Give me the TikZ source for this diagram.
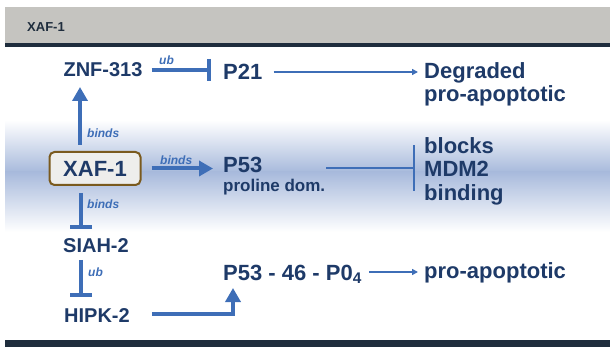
\documentclass[tikz,border=0pt]{standalone}
\usepackage{fontspec}
\setmainfont{Liberation Sans}
\usetikzlibrary{arrows.meta}

\definecolor{navy}{RGB}{30,58,104}
\definecolor{pathblue}{RGB}{62,110,183}
\definecolor{bargrey}{RGB}{197,196,192}
\definecolor{barnavy}{RGB}{31,45,61}
\definecolor{bandblue}{RGB}{168,186,220}
\definecolor{boxrim}{RGB}{122,90,30}
\definecolor{boxfill}{RGB}{238,238,236}

\begin{document}
\begin{tikzpicture}[x=1pt,y=-1pt,
  gene/.style={font=\bfseries\fontsize{20}{22}\selectfont,text=navy,inner sep=0pt},
  prot/.style={font=\bfseries\fontsize{22}{23.5}\selectfont,text=navy,inner sep=0pt},
  tag/.style={font=\bfseries\itshape\fontsize{12}{14}\selectfont,text=pathblue,inner sep=0pt,anchor=west},
  fat/.style={draw=pathblue,line width=4pt,-{Triangle[width=15pt,length=14pt]}},
  block/.style={draw=pathblue,line width=4pt,-{Bar[width=22pt]}},
  stop/.style={draw=pathblue,line width=2pt,-{Bar[width=46pt]}},
  thin/.style={draw=pathblue,line width=1.6pt,-{Triangle[width=6pt,length=6pt]}}]
\useasboundingbox (0,0) rectangle (610,347);

% frame and band
\fill[bargrey] (5,7) rectangle (610,43);
\fill[barnavy] (5,43) rectangle (610,47);
\fill[barnavy] (5,340) rectangle (610,347);
\shade[top color=white,bottom color=bandblue] (5,120) rectangle (610,172);
\shade[top color=bandblue,bottom color=white] (5,172) rectangle (610,232);
\node[font=\bfseries\fontsize{13}{15}\selectfont,text=barnavy,anchor=west,inner sep=0pt] (title) at (27,27) {XAF-1};

% nodes
\node[gene,anchor=base] (znf) at (103,77) {ZNF-313};
\node[prot,anchor=base west] (p21) at (223,80) {P21};
\node[prot,anchor=north west,align=left] (degr) at (424,62) {Degraded\\pro-apoptotic};
\node[prot,draw=boxrim,fill=boxfill,line width=2pt,rounded corners=5pt,
      minimum width=91pt,minimum height=33pt] (xaf) at (95,168.5) {XAF-1};
\node[prot,anchor=base west] (p53) at (223,173) {P53};
\node[font=\bfseries\fontsize{17}{19}\selectfont,text=navy,inner sep=0pt,anchor=base west] (prol) at (223,192) {proline dom.};
\node[prot,anchor=north west,align=left] (mdm) at (424,137) {blocks\\MDM2\\binding};
\node[gene,anchor=base] (siah) at (96,253) {SIAH-2};
\node[gene,anchor=base] (hipk) at (97,322) {HIPK-2};
\node[prot,anchor=base west] (p46) at (223,280) {P53 - 46 - P0\textsubscript{4}};
\node[prot,anchor=base west] (proap) at (424,279) {pro-apoptotic};

% connectors
\draw[block] ([xshift=9pt,yshift=7pt]znf.base east) -- ([xshift=-12pt,yshift=7pt]p21.base west |- znf.base);
\node[tag] (ub1) at (159,60) {ub};
\draw[thin] ([xshift=11pt,yshift=8pt]p21.base east) -- ([xshift=-6pt,yshift=8pt]degr.west |- p21.base);
\draw[fat] ([xshift=-15pt,yshift=6pt]xaf.north) -- ([xshift=-23pt,yshift=-10pt]znf.base);
\node[tag] (binds1) at (87,133) {binds};
\draw[fat] ([xshift=10pt]xaf.east) -- ([xshift=-10pt]xaf.east -| p53.west);
\node[tag] (binds2) at (160,160) {binds};
\draw[stop] ([xshift=1pt]prol.east |- xaf.east) -- ([xshift=-9pt]mdm.west |- xaf.east);
\draw[block] ([xshift=-14pt,yshift=-7pt]xaf.south) -- ([xshift=-15pt,yshift=24pt]siah.base);
\node[tag] (binds3) at (87,204) {binds};
\draw[block] ([xshift=-15pt,yshift=-7pt]siah.base) -- ([xshift=-16pt,yshift=25pt]hipk.base);
\node[tag] (ub2) at (88,272) {ub};
\draw[fat] ([xshift=22pt,yshift=8pt]hipk.base east) -| ([xshift=10pt,yshift=-8pt]p46.base west);
\draw[thin] ([xshift=7pt,yshift=8pt]p46.base east) -- ([xshift=-6pt,yshift=8pt]proap.base west |- p46.base);
\end{tikzpicture}
\end{document}
